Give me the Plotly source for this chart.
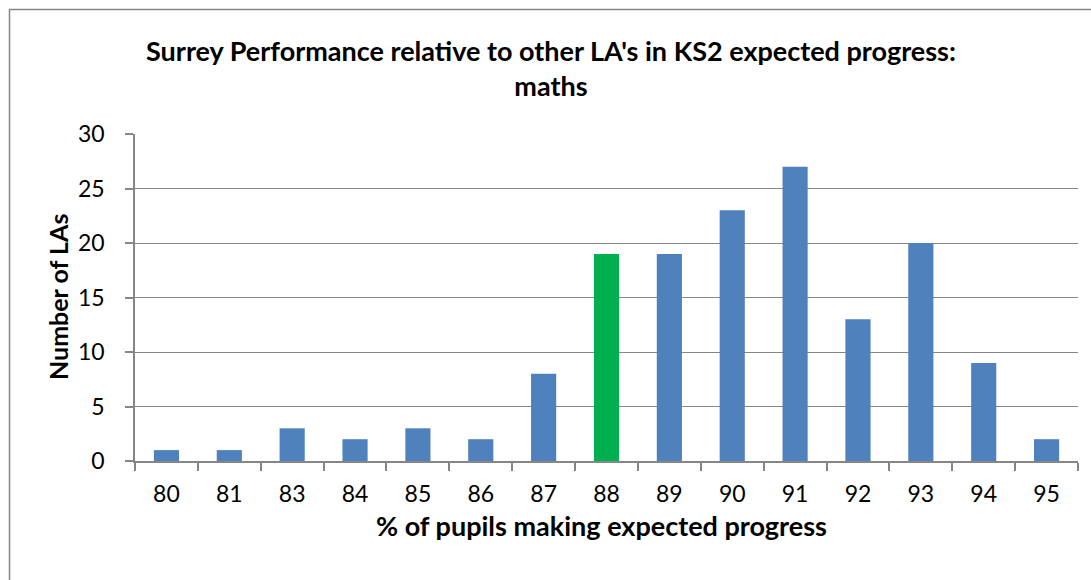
import plotly.graph_objects as go

categories = ["80", "81", "83", "84", "85", "86", "87", "88", "89", "90", "91", "92", "93", "94", "95"]
counts = [1, 1, 3, 2, 3, 2, 8, 19, 19, 23, 27, 13, 20, 9, 2]
highlight = "88"

colors = ["#00B050" if c == highlight else "#4F81BD" for c in categories]

W, H = 1091, 580
L, R, T, B = 135, 13, 134, 119
pw, ph = W - L - R, H - T - B

def px_x(x):
    return (x - L) / pw

def px_y(y):
    return (H - B - y) / ph

fig = go.Figure(go.Bar(x=categories, y=counts, marker=dict(color=colors, line=dict(width=0)), width=0.4))

font = "Lato, Carlito, 'Open Sans', sans-serif"
grey = "#868686"

fig.update_layout(
    width=W, height=H,
    margin=dict(l=L, r=R, t=T, b=B),
    paper_bgcolor="white", plot_bgcolor="white",
    font=dict(family=font, color="black", size=23),
    showlegend=False,
    title=dict(
        text="<b>Surrey Performance relative to other LA's in KS2 expected progress:<br>maths</b>",
        x=551 / W, xref="container", xanchor="center",
        y=1 - 61 / H, yref="container", yanchor="middle",
        font=dict(family=font, size=27, color="black"),
    ),
    xaxis=dict(
        type="category",
        showline=True, linecolor=grey, linewidth=1.5,
        ticks="outside", tickson="boundaries", ticklen=8, tickcolor=grey, tickwidth=1.5,
        tickfont=dict(size=23), ticklabelstandoff=12,
        showgrid=False,
    ),
    yaxis=dict(
        range=[0, 30], dtick=5,
        showline=True, linecolor=grey, linewidth=1.5,
        ticks="outside", ticklen=8, tickcolor=grey, tickwidth=1.5,
        showgrid=True, gridcolor=grey, gridwidth=1,
        tickfont=dict(size=23), ticklabelstandoff=16,
        zeroline=False,
    ),
    annotations=[
        dict(text="<b>% of pupils making expected progress</b>", xref="paper", yref="paper",
             x=px_x(601), y=px_y(525), xanchor="center", yanchor="middle", showarrow=False,
             font=dict(size=27)),
        dict(text="<b>Number of LAs</b>", xref="paper", yref="paper", textangle=-90,
             x=px_x(58), y=px_y(297), xanchor="center", yanchor="middle", showarrow=False,
             font=dict(size=25)),
    ],
    shapes=[dict(
        type="rect", xref="paper", yref="paper",
        x0=px_x(9.5), x1=px_x(W + 5),
        y0=px_y(H + 5), y1=px_y(9.5),
        line=dict(color=grey, width=1.5), fillcolor="rgba(0,0,0,0)", layer="below",
    )],
)

fig.write_html("out.html", config={"displayModeBar": False},
               post_script="document.body.style.margin='0';")
